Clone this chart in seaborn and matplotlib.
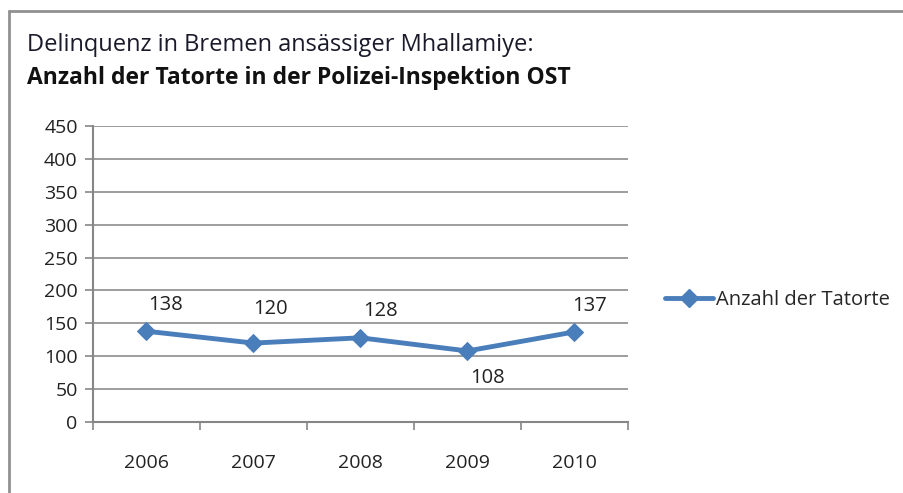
import matplotlib
matplotlib.use("Agg")
import matplotlib.pyplot as plt
from matplotlib.lines import Line2D
import seaborn as sns
import pandas as pd

years = ["2006", "2007", "2008", "2009", "2010"]
values = [138, 120, 128, 108, 137]
series_name = "Anzahl der Tatorte"
title_line1 = "Delinquenz in Bremen ansässiger Mhallamiye:"
title_line2 = "Anzahl der Tatorte in der Polizei-Inspektion OST"
yticks = [0, 50, 100, 150, 200, 250, 300, 350, 400, 450]

sns.set_theme(style="white")
plt.rcParams["font.family"] = ["Open Sans", "DejaVu Sans"]

df = pd.DataFrame({"pos": range(len(years)), "value": values, "series": series_name})

fig = plt.figure(figsize=(9.04, 4.93), dpi=100)
ax = fig.add_axes([93/904, 1-422/493, (628-93)/904, (422-126)/493])

color = "#4A7EBB"
sns.lineplot(data=df, x="pos", y="value", ax=ax, color=color, linewidth=3.5,
             marker="D", markersize=9.5, markeredgecolor=color, legend=False)

ax.set_xlim(-0.5, len(years) - 0.5)
ax.set_ylim(0, 450)
ax.set_yticks(yticks)
ax.set_yticklabels([str(t) for t in yticks], fontsize=14, color="#222222")
ax.set_xticks(range(len(years)))
ax.set_xticklabels(years, fontsize=14, color="#222222")
ax.tick_params(axis="x", length=0, pad=23)
ax.tick_params(axis="y", length=6, width=1.2, color="#868686", left=True, pad=5)
ax.set_xticks([i - 0.5 for i in range(len(years) + 1)], minor=True)
ax.tick_params(axis="x", which="minor", length=6, width=1.2, color="#868686", bottom=True)
ax.set_xlabel("")
ax.set_ylabel("")
ax.yaxis.grid(True, color="#8c8c8c", linewidth=1.2)
ax.xaxis.grid(False)
for s in ["top", "right"]:
    ax.spines[s].set_visible(False)
for s in ["left", "bottom"]:
    ax.spines[s].set_color("#868686")
    ax.spines[s].set_linewidth(1.5)

# label offsets in points (styling only)
label_dx = [13.7, 12.2, 14.4, 14.4, 10.8]
label_dy = [18.7, 24.5, 19.4, -19.4, 18.7]
for i, v in enumerate(values):
    ax.annotate(str(v), (i, v), xytext=(label_dx[i], label_dy[i]), textcoords="offset points",
                ha="center", va="center", fontsize=14.5, color="#222222")

fig.text(27/904, 1-45/493, title_line1, fontsize=17, color="#1a1a2a", va="center", ha="left")
fig.text(27/904, 1-78/493, title_line2, fontsize=16.5, fontweight="bold", color="#111111",
         va="center", ha="left")

handle = Line2D([], [], color=color, linewidth=3.5, marker="D", markersize=9.5)
fig.legend([handle], [series_name], loc="center left", bbox_to_anchor=(665/904, 1-300/493),
           frameon=False, fontsize=14.5, handlelength=2.4, handletextpad=0.15, borderaxespad=0,
           borderpad=0)

fig.add_artist(Line2D([9/904, 9/904], [0, 1-11/493], transform=fig.transFigure, color="#909090", linewidth=2))
fig.add_artist(Line2D([9/904, 1], [1-11/493, 1-11/493], transform=fig.transFigure, color="#909090", linewidth=2))

fig.savefig("out.png", dpi=100)
